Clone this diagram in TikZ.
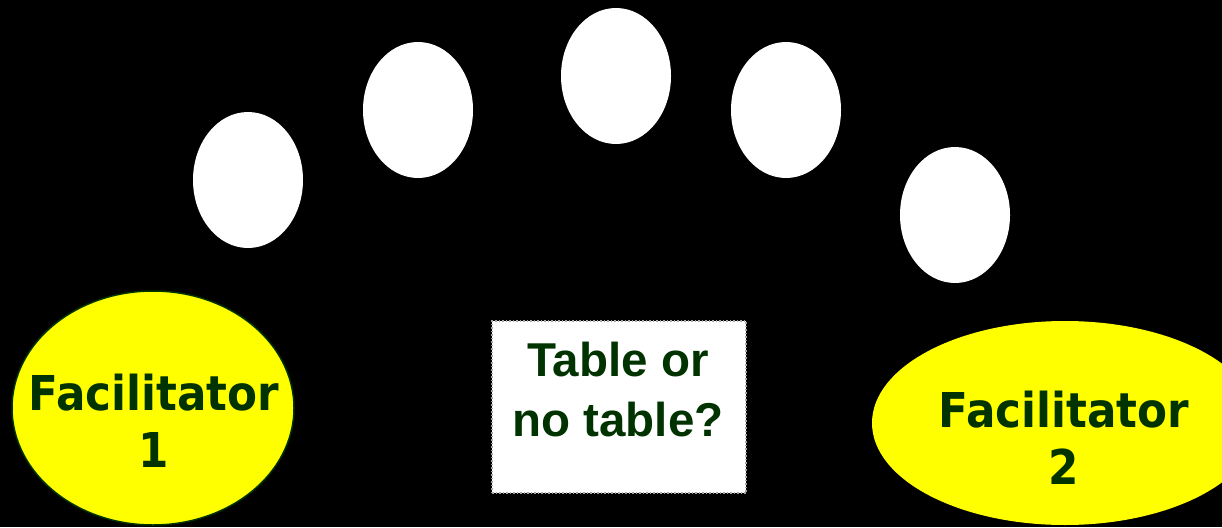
\documentclass[tikz,border=0pt]{standalone}
\usepackage{fontspec}
\usetikzlibrary{shapes.geometric}
\newfontfamily\facfont[FakeStretch=0.91]{DejaVu Sans}
\newfontfamily\tabfont{Liberation Sans}
\definecolor{txtgreen}{HTML}{003300}
\definecolor{facyellow}{HTML}{FFFF00}
\tikzset{
  seat/.style={ellipse, fill=white, draw=none, minimum width=110pt, minimum height=136pt, inner sep=0pt},
  facil/.style={ellipse, fill=facyellow, inner sep=0pt},
  factext/.style={text=txtgreen, align=center, font=\facfont\bfseries\fontsize{48}{57}\selectfont, inner sep=0pt},
  tabbox/.style={rectangle, fill=white, draw=gray!70, dotted, line width=1.5pt, minimum width=254pt, minimum height=172pt, inner sep=0pt},
  tabtext/.style={text=txtgreen, align=center, font=\tabfont\bfseries\fontsize{47.5}{60}\selectfont, inner sep=0pt}
}
\begin{document}
\begin{tikzpicture}[x=1pt,y=-1pt]
\useasboundingbox (0,0) rectangle (1222,527);
\clip (0,0) rectangle (1222,527);
\fill[black] (0,0) rectangle (1222,527);
\node[seat] (s1) at (248,180) {};
\node[seat] (s2) at (418,110) {};
\node[seat] (s3) at (616,76) {};
\node[seat] (s4) at (786,110) {};
\node[seat] (s5) at (955,215) {};
\node[facil, draw=txtgreen, line width=1.5pt, minimum width=282pt, minimum height=234pt] (f1) at (153,408) {};
\node[factext] (f1t) at (154,421) {Facilitator\\1};
\node[facil, minimum width=386pt, minimum height=204pt] (f2) at (1065,423) {};
\node[factext] (f2t) at (1064,438) {Facilitator\\2};
\node[tabbox] (tb) at (619,407) {};
\node[tabtext] (tt) at (618,390) {Table or\\no table?};
\end{tikzpicture}
\end{document}
